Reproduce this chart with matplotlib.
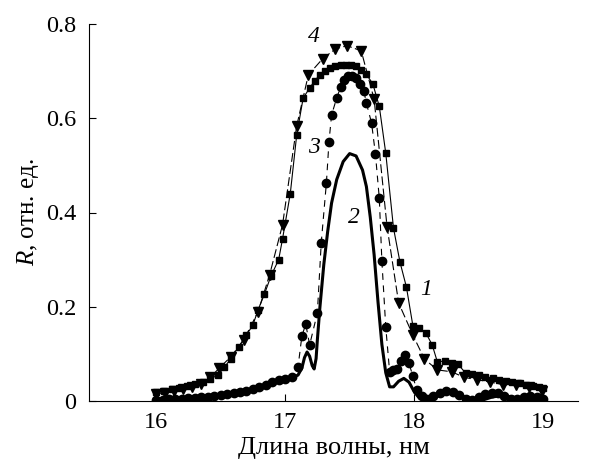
import matplotlib
matplotlib.use("Agg")
import matplotlib.pyplot as plt

plt.rcParams['font.family'] = ['Liberation Serif', 'DejaVu Serif']
plt.rcParams['mathtext.fontset'] = 'custom'
plt.rcParams['mathtext.rm'] = 'Liberation Serif'
plt.rcParams['mathtext.it'] = 'Liberation Serif:italic'

# curve 1 (squares)
x1 = [16.00, 16.06, 16.12, 16.18, 16.24, 16.30, 16.36, 16.42, 16.48, 16.53, 16.58, 16.64,
      16.70, 16.75, 16.79, 16.84, 16.89, 16.95, 16.98, 17.04, 17.09, 17.14, 17.19, 17.23,
      17.27, 17.31, 17.35, 17.39, 17.43, 17.47, 17.51, 17.55, 17.59, 17.63, 17.68, 17.73,
      17.78, 17.84, 17.89, 17.94, 17.99, 18.04, 18.09, 18.14, 18.18, 18.24, 18.29, 18.34,
      18.40, 18.45, 18.50, 18.55, 18.61, 18.66, 18.71, 18.76, 18.82, 18.87, 18.92, 18.97, 19.00]
y1 = [0.020, 0.022, 0.025, 0.028, 0.032, 0.036, 0.041, 0.047, 0.055, 0.072, 0.090, 0.115,
      0.140, 0.161, 0.193, 0.227, 0.265, 0.300, 0.344, 0.440, 0.565, 0.643, 0.664, 0.680,
      0.692, 0.700, 0.706, 0.710, 0.713, 0.714, 0.713, 0.710, 0.703, 0.693, 0.673, 0.625,
      0.526, 0.367, 0.295, 0.242, 0.160, 0.155, 0.145, 0.119, 0.083, 0.085, 0.080, 0.078,
      0.059, 0.058, 0.055, 0.050, 0.048, 0.045, 0.042, 0.040, 0.038, 0.035, 0.032, 0.030, 0.028]

# curve 2 (solid line)
x2 = [16.00, 16.20, 16.40, 16.60, 16.80, 16.90, 17.00, 17.06, 17.10, 17.13, 17.15, 17.17,
      17.19, 17.21, 17.225, 17.24, 17.25, 17.27, 17.30, 17.33, 17.36, 17.40, 17.45, 17.50,
      17.55, 17.60, 17.63, 17.66, 17.69, 17.72, 17.75, 17.78, 17.81, 17.84, 17.88, 17.92,
      17.96, 18.00, 18.04, 18.08, 18.15, 18.22, 18.30, 18.38, 18.45, 18.52, 18.60, 18.68,
      18.75, 18.82, 18.90, 19.00]
y2 = [0.002, 0.004, 0.008, 0.015, 0.028, 0.036, 0.045, 0.050, 0.055, 0.070, 0.092, 0.104,
      0.095, 0.075, 0.068, 0.090, 0.130, 0.200, 0.290, 0.360, 0.420, 0.470, 0.508, 0.525,
      0.520, 0.490, 0.455, 0.390, 0.310, 0.210, 0.120, 0.060, 0.030, 0.030, 0.042, 0.048,
      0.040, 0.020, 0.006, 0.001, 0.006, 0.015, 0.018, 0.010, 0.002, 0.001, 0.008, 0.012,
      0.009, 0.004, 0.002, 0.001]

# curve 3 (circles)
x3 = [16.00, 16.05, 16.10, 16.15, 16.20, 16.25, 16.30, 16.35, 16.40, 16.45, 16.50, 16.55,
      16.60, 16.65, 16.70, 16.75, 16.80, 16.85, 16.90, 16.95, 17.00, 17.05, 17.10, 17.13,
      17.16, 17.19, 17.25, 17.28, 17.32, 17.34, 17.36, 17.40, 17.43, 17.46, 17.49, 17.52,
      17.55, 17.58, 17.61, 17.63, 17.67, 17.70, 17.73, 17.75, 17.78, 17.81, 17.84, 17.87,
      17.90, 17.93, 17.96, 17.99, 18.02, 18.06, 18.10, 18.15, 18.20, 18.25, 18.30, 18.35,
      18.40, 18.45, 18.50, 18.55, 18.60, 18.65, 18.70, 18.75, 18.80, 18.85, 18.90, 18.95, 19.00]
y3 = [0.003, 0.003, 0.004, 0.004, 0.005, 0.006, 0.007, 0.008, 0.009, 0.010, 0.012, 0.014,
      0.016, 0.019, 0.022, 0.026, 0.030, 0.035, 0.040, 0.044, 0.047, 0.050, 0.072, 0.138,
      0.163, 0.119, 0.187, 0.336, 0.463, 0.550, 0.607, 0.643, 0.666, 0.682, 0.690, 0.690,
      0.685, 0.672, 0.658, 0.632, 0.590, 0.524, 0.430, 0.297, 0.157, 0.062, 0.065, 0.068,
      0.085, 0.098, 0.080, 0.053, 0.023, 0.010, 0.005, 0.010, 0.018, 0.022, 0.020, 0.012,
      0.005, 0.003, 0.008, 0.014, 0.018, 0.016, 0.010, 0.005, 0.004, 0.008, 0.010, 0.008, 0.005]

# curve 4 (triangles)
x4 = [16.00, 16.07, 16.14, 16.21, 16.28, 16.35, 16.42, 16.49, 16.58, 16.68, 16.79, 16.88,
      16.98, 17.09, 17.18, 17.29, 17.39, 17.48, 17.59, 17.69, 17.79, 17.88, 17.99, 18.08,
      18.18, 18.29, 18.39, 18.49, 18.59, 18.69, 18.79, 18.89, 18.99]
y4 = [0.015, 0.018, 0.021, 0.025, 0.030, 0.037, 0.050, 0.070, 0.094, 0.130, 0.189, 0.268,
      0.374, 0.584, 0.692, 0.726, 0.747, 0.754, 0.743, 0.640, 0.370, 0.208, 0.140, 0.089,
      0.066, 0.062, 0.050, 0.045, 0.040, 0.035, 0.033, 0.030, 0.022]

fig = plt.figure(figsize=(6.01, 4.62), dpi=100)
ax = fig.add_axes([89 / 601, 61 / 462, 489 / 601, 377 / 462])

ax.plot(x1, y1, color='black', lw=0.8, marker='s', ms=5, ls='-')
ax.plot(x4, y4, color='black', lw=0.8, marker='v', ms=6.5, ls=(0, (8, 3)))
ax.plot(x3, y3, color='black', lw=0.8, marker='o', ms=6, ls=(0, (6, 5)))
ax.plot(x2, y2, color='black', lw=2.2, ls='-')

ax.text(17.22, 0.773, '4', fontsize=17, style='italic', ha='center', va='center')
ax.text(17.22, 0.537, '3', fontsize=17, style='italic', ha='center', va='center')
ax.text(17.53, 0.389, '2', fontsize=17, style='italic', ha='center', va='center')
ax.text(18.09, 0.236, '1', fontsize=17, style='italic', ha='center', va='center')

ax.set_xlim(15.48, 19.27)
ax.set_ylim(0, 0.8)
ax.set_xticks([16, 17, 18, 19])
ax.set_yticks([0, 0.2, 0.4, 0.6, 0.8])
ax.set_yticklabels(['0', '0.2', '0.4', '0.6', '0.8'])
ax.tick_params(direction='in', length=5, width=0.8, labelsize=17.5)
ax.tick_params(axis='x', pad=8)
ax.tick_params(axis='y', pad=9)
ax.spines['top'].set_visible(False)
ax.spines['right'].set_visible(False)

ax.set_xlabel('Длина волны, нм', fontsize=19, labelpad=3)
ax.set_ylabel('$R$, отн. ед.', fontsize=18, labelpad=4)

fig.savefig('out.png', dpi=100)
